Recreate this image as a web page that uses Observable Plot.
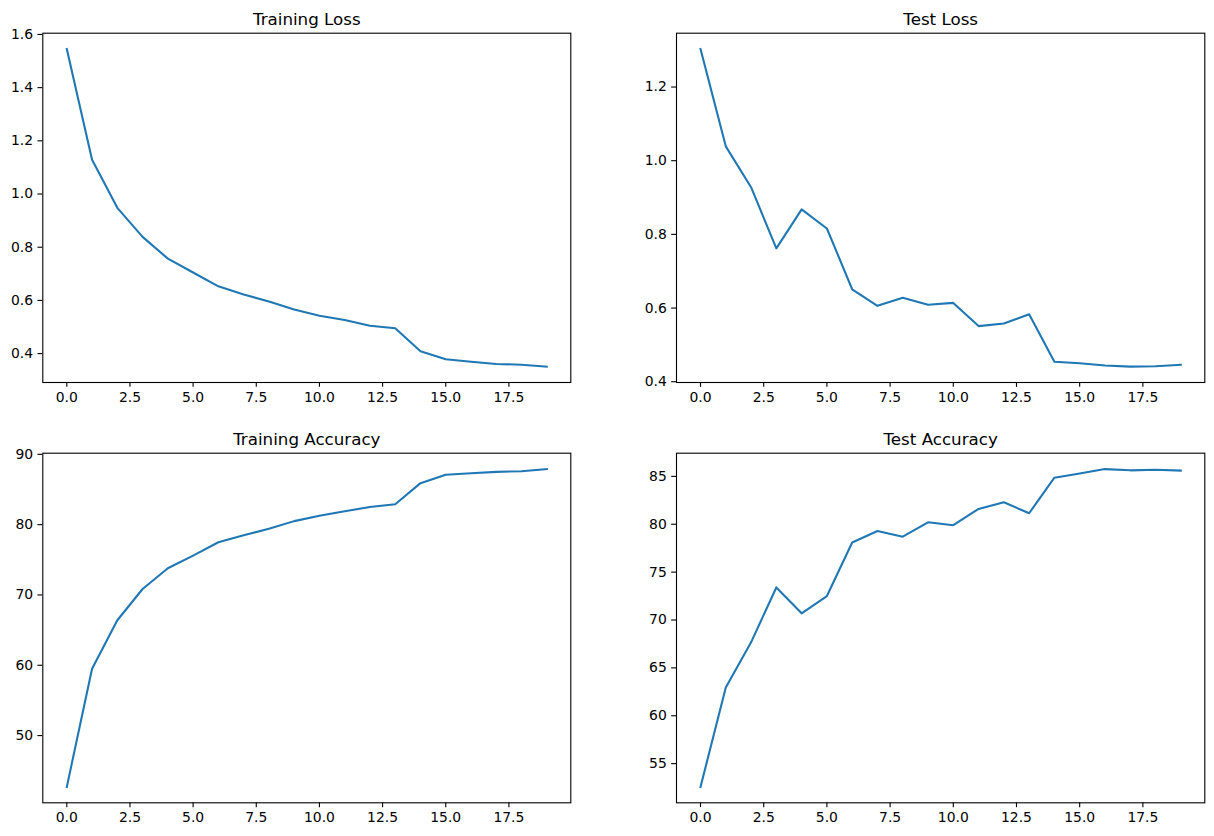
<!DOCTYPE html>
<html>
<head>
<meta charset="utf-8">
<script src="https://cdn.jsdelivr.net/npm/d3@7"></script>
<script src="https://cdn.jsdelivr.net/npm/@observablehq/plot@0.6"></script>
<style>
  html, body { margin: 0; padding: 0; background: #fff; }
  #fig { position: relative; width: 1214px; height: 836px; background: #fff; }
  .panel { position: absolute; }
  .panel svg { overflow: visible; }
</style>
</head>
<body>
<div id="fig"></div>
<script>
const epochs = [0,1,2,3,4,5,6,7,8,9,10,11,12,13,14,15,16,17,18,19];

const trainLoss = [1.545, 1.129, 0.948, 0.839, 0.757, 0.705, 0.653, 0.622, 0.596, 0.566,
                   0.542, 0.526, 0.505, 0.495, 0.409, 0.379, 0.369, 0.361, 0.358, 0.351];
const testLoss  = [1.303, 1.039, 0.928, 0.762, 0.868, 0.816, 0.651, 0.606, 0.628, 0.609,
                   0.614, 0.551, 0.558, 0.583, 0.454, 0.450, 0.444, 0.441, 0.442, 0.446];
const trainAcc  = [42.7, 59.5, 66.4, 70.85, 73.8, 75.6, 77.5, 78.5, 79.4, 80.5,
                   81.25, 81.9, 82.5, 82.9, 85.9, 87.1, 87.3, 87.5, 87.6, 87.9];
const testAcc   = [52.57, 62.95, 67.67, 73.4, 70.7, 72.5, 78.1, 79.3, 78.7, 80.2,
                   79.9, 81.6, 82.3, 81.15, 84.86, 85.3, 85.76, 85.63, 85.7, 85.6];

const titles = ["Training Loss", "Test Loss", "Training Accuracy", "Test Accuracy"];
const xTicks = [0, 2.5, 5, 7.5, 10, 12.5, 15, 17.5];
const trainLossTicks = [0.4, 0.6, 0.8, 1.0, 1.2, 1.4, 1.6];
const testLossTicks = [0.4, 0.6, 0.8, 1.0, 1.2];
const trainAccTicks = [50, 60, 70, 80, 90];
const testAccTicks = [55, 60, 65, 70, 75, 80, 85];

const panels = [
  {values: trainLoss, title: titles[0], yTicks: trainLossTicks, yFmt: ".1f", left: 0, top: 0, mL: 42.3, mR: 36.7, mT: 32.7, mB: 36},
  {values: testLoss, title: titles[1], yTicks: testLossTicks, yFmt: ".1f", left: 607, top: 0, mL: 69, mR: 9.7, mT: 32.7, mB: 36},
  {values: trainAcc, title: titles[2], yTicks: trainAccTicks, yFmt: "d", left: 0, top: 418, mL: 42.3, mR: 36.7, mT: 34.7, mB: 33.7},
  {values: testAcc, title: titles[3], yTicks: testAccTicks, yFmt: "d", left: 607, top: 418, mL: 69, mR: 9.7, mT: 34.7, mB: 33.7}
];

function padded(vals) {
  const [a, b] = d3.extent(vals);
  const m = (b - a) * 0.05;
  return [a - m, b + m];
}

const fig = document.getElementById("fig");
const font = "DejaVu Sans";

for (const p of panels) {
  const data = epochs.map((e, i) => ({epoch: e, value: p.values[i]}));
  const chart = Plot.plot({
    width: 607,
    height: 418,
    marginLeft: p.mL,
    marginRight: p.mR,
    marginTop: p.mT,
    marginBottom: p.mB,
    style: {fontFamily: font, fontSize: "13.9px", color: "#000", background: "transparent", overflow: "visible"},
    x: {domain: padded(epochs), label: null},
    y: {domain: padded(p.values), label: null},
    marks: [
      Plot.line(data, {x: "epoch", y: "value", stroke: "#1f77b4", strokeWidth: 2.08, strokeLinejoin: "round", strokeLinecap: "square"}),
      Plot.frame({stroke: "#000", strokeWidth: 1.1}),
      Plot.axisX({ticks: xTicks, tickFormat: d3.format(".1f"), tickSize: 4.86, tickPadding: 4.86, strokeWidth: 1.1, fontSize: 13.9, label: null}),
      Plot.axisY({ticks: p.yTicks, tickFormat: d3.format(p.yFmt), tickSize: 4.86, tickPadding: 4.86, strokeWidth: 1.1, fontSize: 13.9, label: null}),
      Plot.text([p.title], {text: d => d, frameAnchor: "top", lineAnchor: "bottom", dy: -8.3, fontSize: 16.7, fill: "#000"})
    ]
  });
  const div = document.createElement("div");
  div.className = "panel";
  div.style.left = p.left + "px";
  div.style.top = p.top + "px";
  div.appendChild(chart);
  fig.appendChild(div);
}
</script>
</body>
</html>
